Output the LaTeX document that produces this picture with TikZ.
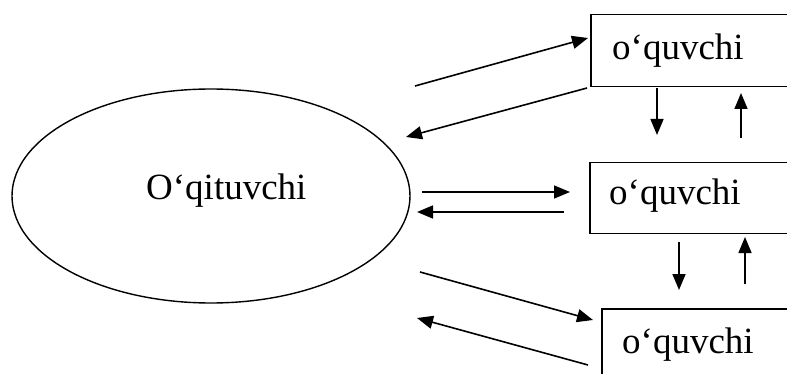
\documentclass[tikz,border=0pt]{standalone}
\usepackage{fontspec}
\setmainfont{Liberation Serif}
\usetikzlibrary{arrows.meta,shapes.geometric}
\begin{document}
\begin{tikzpicture}[x=1pt,y=-1pt,
  box/.style={draw, line width=1.5pt, minimum width=230pt, anchor=north west, inner sep=0pt},
  lbl/.style={font=\fontsize{37}{40}\selectfont, inner sep=0pt, anchor=base west},
  arr/.style={-{Triangle[length=16pt,width=13pt]}, line width=1.6pt},
  oval/.style={draw, ellipse, line width=1.4pt, inner sep=0pt, minimum width=398pt, minimum height=214pt}
  ]
\useasboundingbox (0,0) rectangle (787,374);
\clip (0,0) rectangle (787,374);
% teacher
\node[oval] (T) at (211,196) {};
\node[lbl] (Tl) at (146,200) {O‘qituvchi};
% pupils
\node[box, minimum height=72pt] (B1) at (590,14) {};
\node[box, minimum height=71pt] (B2) at (589,162) {};
\node[box, minimum height=90pt] (B3) at (601,308) {};
\node[lbl] (L1) at (612,60) {o‘quvchi};
\node[lbl] (L2) at (609,205) {o‘quvchi};
\node[lbl] (L3) at (622,353) {o‘quvchi};
% connector ends
\coordinate (a1s) at (415,86);  \coordinate (a1e) at (588,38);
\coordinate (a2s) at (587,88);  \coordinate (a2e) at (406,137);
\coordinate (a3s) at (657,88);  \coordinate (a3e) at (657,135);
\coordinate (a4s) at (741,138); \coordinate (a4e) at (741,93);
\coordinate (a5s) at (422,192); \coordinate (a5e) at (570,192);
\coordinate (a6s) at (564,212); \coordinate (a6e) at (417,212);
\coordinate (a7s) at (679,242); \coordinate (a7e) at (679,290);
\coordinate (a8s) at (745,284); \coordinate (a8e) at (745,237);
\coordinate (a9s) at (420,272); \coordinate (a9e) at (593,320);
\coordinate (a10s) at (588,365); \coordinate (a10e) at (417,318);
\foreach \i in {1,...,10}{\draw[arr] (a\i s) -- (a\i e);}
\end{tikzpicture}
\end{document}
